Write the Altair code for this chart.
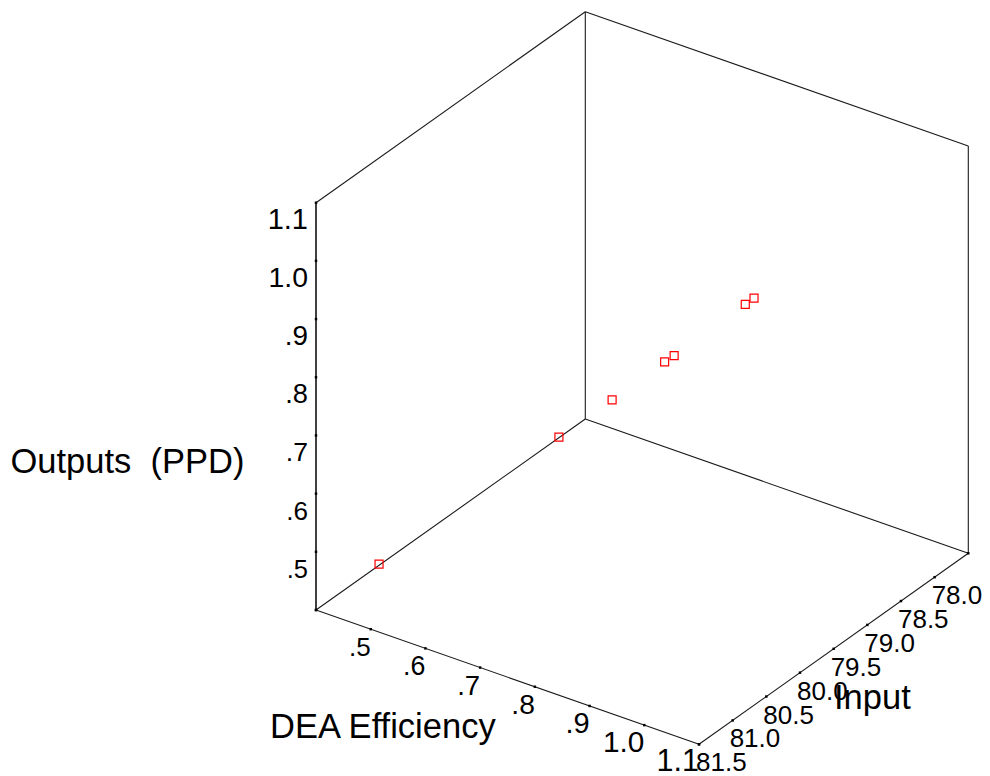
import altair as alt
import pandas as pd

# ---------------- data ----------------
dea_eff = [0.45, 0.70, 0.78, 0.86, 0.87, 1.00, 1.00]
input_val = [80.97, 80.33, 80.19, 80.06, 80.00, 80.00, 79.87]
ppd_out = [0.452, 0.700, 0.779, 0.860, 0.869, 1.000, 1.000]

# axis domains (3D box)
dea_min, dea_max = 0.4, 1.1
inp_near, inp_far = 81.5, 77.5
ppd_min, ppd_max = 0.4, 1.1

# ticks & labels
ppd_tick_vals = [0.4, 0.5, 0.6, 0.7, 0.8, 0.9, 1.0, 1.1]
ppd_label_vals = [0.5, 0.6, 0.7, 0.8, 0.9, 1.0, 1.1]
ppd_label_text = [".5", ".6", ".7", ".8", ".9", "1.0", "1.1"]

dea_tick_vals = [0.4, 0.5, 0.6, 0.7, 0.8, 0.9, 1.0, 1.1]
dea_label_vals = [0.5, 0.6, 0.7, 0.8, 0.9, 1.0, 1.1]
dea_label_text = [".5", ".6", ".7", ".8", ".9", "1.0", "1.1"]

input_tick_vals = [81.5, 81.0, 80.5, 80.0, 79.5, 79.0, 78.5, 78.0, 77.5]
input_label_vals = [81.5, 81.0, 80.5, 80.0, 79.5, 79.0, 78.5, 78.0]
input_label_text = ["81.5", "81.0", "80.5", "80.0", "79.5", "79.0", "78.5", "78.0"]

title_ppd = "Outputs \u00a0(PPD)"
title_dea = "DEA Efficiency"
title_inp = "Input"

# ---------------- projection geometry (layout) ----------------
W, H = 974, 768
OX, OY = 308.0, 602.0          # front-left-bottom corner
DX, DY = 383.0, 134.3          # DEA axis vector
IX, IY = 269.3, -191.0         # Input axis vector
VZ = 407.3                     # vertical axis length

FONT = "Liberation Sans"

u_expr = f"(datum.dea - {dea_min}) / ({dea_max} - {dea_min})"
v_expr = f"(datum.inp - {inp_near}) / ({inp_far} - {inp_near})"
w_expr = f"(datum.ppd - {ppd_min}) / ({ppd_max} - {ppd_min})"


def project(ch):
    return (
        ch.transform_calculate(u=u_expr)
        .transform_calculate(v=v_expr)
        .transform_calculate(w=w_expr)
        .transform_calculate(sx=f"{OX} + datum.u * {DX} + datum.v * {IX}")
        .transform_calculate(sy=f"{OY} + datum.u * {DY} + datum.v * {IY} - datum.w * {VZ}")
    )


X = alt.X("sx:Q", scale=alt.Scale(domain=[0, W], nice=False, zero=False), axis=None)
Y = alt.Y("sy:Q", scale=alt.Scale(domain=[0, H], reverse=True, nice=False, zero=False), axis=None)

# ---------------- box edges ----------------
A = (dea_min, inp_near, ppd_min)
B = (dea_max, inp_near, ppd_min)
C = (dea_max, inp_far, ppd_min)
D = (dea_min, inp_far, ppd_min)
At = (dea_min, inp_near, ppd_max)
Ct = (dea_max, inp_far, ppd_max)
Dt = (dea_min, inp_far, ppd_max)

edge_list = [(A, D), (D, Dt), (At, Dt), (D, C), (C, Ct), (Dt, Ct), (A, B), (B, C)]
rows = []
for i, (p, q) in enumerate(edge_list):
    for k, c in enumerate((p, q)):
        rows.append({"edge": i, "k": k, "dea": c[0], "inp": c[1], "ppd": c[2]})
edges_df = pd.DataFrame(rows)
front_df = pd.DataFrame([
    {"edge": 0, "k": 0, "dea": A[0], "inp": A[1], "ppd": A[2]},
    {"edge": 0, "k": 1, "dea": At[0], "inp": At[1], "ppd": At[2]},
])

edges = project(alt.Chart(edges_df)).mark_line(color="#1a1a1a", strokeWidth=1.1).encode(
    x=X, y=Y, detail="edge:N", order="k:Q")
front = project(alt.Chart(front_df)).mark_line(color="#111111", strokeWidth=1.6).encode(
    x=X, y=Y, detail="edge:N", order="k:Q")

# ---------------- ticks ----------------
tick_rows = []
for t in ppd_tick_vals:
    tick_rows.append({"dea": dea_min, "inp": inp_near, "ppd": t})
for t in dea_tick_vals:
    tick_rows.append({"dea": t, "inp": inp_near, "ppd": ppd_min})
for t in input_tick_vals:
    tick_rows.append({"dea": dea_max, "inp": t, "ppd": ppd_min})
ticks = project(alt.Chart(pd.DataFrame(tick_rows))).mark_square(
    size=6, color="black", opacity=1).encode(x=X, y=Y)

# ---------------- tick labels ----------------
ppd_lab_df = pd.DataFrame({"ppd": ppd_label_vals, "lab": ppd_label_text})
ppd_lab_df["dea"] = dea_min
ppd_lab_df["inp"] = inp_near
ppd_labels = project(alt.Chart(ppd_lab_df)).transform_calculate(
    fs="25.5 + (datum.ppd - 0.5) / 0.6 * 3.5"
).mark_text(align="right", baseline="alphabetic", dx=-8, dy=26, font=FONT, color="black").encode(
    x=X, y=Y, text="lab:N", size=alt.Size("fs:Q", scale=None))

dea_lab_df = pd.DataFrame({"dea": dea_label_vals, "lab": dea_label_text})
dea_lab_df["inp"] = inp_near
dea_lab_df["ppd"] = ppd_min
dea_labels = project(alt.Chart(dea_lab_df)).transform_calculate(
    fs="26 + (datum.dea - 0.5) / 0.6 * 4.5"
).mark_text(align="right", baseline="alphabetic", dx=0, dy=27, font=FONT, color="black").encode(
    x=X, y=Y, text="lab:N", size=alt.Size("fs:Q", scale=None))

inp_lab_df = pd.DataFrame({"inp": input_label_vals, "lab": input_label_text})
inp_lab_df["dea"] = dea_max
inp_lab_df["ppd"] = ppd_min
inp_labels = project(alt.Chart(inp_lab_df)).mark_text(
    align="left", baseline="alphabetic", dx=-3, dy=27, font=FONT, fontSize=26, color="black"
).encode(x=X, y=Y, text="lab:N")

# ---------------- axis titles ----------------
def title(txt, x, y):
    return alt.Chart(pd.DataFrame({"t": [txt]})).mark_text(
        align="left", baseline="alphabetic", font=FONT, fontSize=34.5, color="black"
    ).encode(x=alt.value(x), y=alt.value(y), text="t:N")

t1 = title(title_ppd, 2.5, 465)
t2 = title(title_dea, 262, 729.5)
t3 = title(title_inp, 826, 700.5)

# ---------------- data points ----------------
pts_df = pd.DataFrame({"dea": dea_eff, "inp": input_val, "ppd": ppd_out})
points = project(alt.Chart(pts_df)).mark_square(
    size=64, filled=False, color="#ff0000", strokeWidth=1.2, opacity=1
).encode(x=X, y=Y)

chart = alt.layer(
    edges, front, ticks, ppd_labels, dea_labels, inp_labels, t1, t2, t3, points
).properties(
    width=W, height=H, padding=0, autosize=alt.AutoSizeParams(type="none"),
    background="white"
).configure_view(stroke=None)

chart.save("out.html", embed_options={"renderer": "svg", "actions": False})
